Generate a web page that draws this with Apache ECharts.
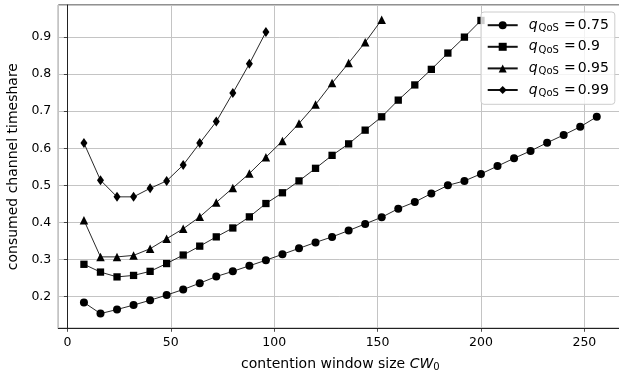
<!DOCTYPE html>
<html>
<head>
<meta charset="utf-8">
<script src="https://cdn.jsdelivr.net/npm/echarts@6/dist/echarts.min.js"></script>
<style>
html,body{margin:0;padding:0;background:#fff;}
#chart{width:619px;height:375px;}
</style>
</head>
<body>
<div id="chart"></div>
<script>
// contention window sizes (x values)
const cwValues = [8,16,24,32,40,48,56,64,72,80,88,96,104,112,120,128,136,144,152,160,168,176,184,192,200,208,216,224,232,240,248,256];
// consumed channel timeshare per QoS level
const q075 = [0.184,0.154,0.165,0.177,0.190,0.204,0.219,0.236,0.254,0.268,0.283,0.298,0.314,0.330,0.346,0.361,0.378,0.396,0.414,0.437,0.455,0.478,0.500,0.512,0.531,0.552,0.573,0.593,0.615,0.636,0.658,0.685];
const q090 = [0.287,0.266,0.253,0.257,0.268,0.289,0.312,0.336,0.361,0.385,0.415,0.451,0.480,0.512,0.546,0.581,0.612,0.649,0.685,0.730,0.771,0.813,0.857,0.900,0.945];
const q095 = [0.406,0.307,0.307,0.311,0.329,0.356,0.383,0.415,0.454,0.493,0.532,0.576,0.620,0.667,0.718,0.776,0.830,0.886,0.947];
const q099 = [0.614,0.514,0.469,0.469,0.492,0.512,0.555,0.614,0.672,0.749,0.828,0.914];
const qLabels = ['0.75','0.9','0.95','0.99'];
const seriesValues = [q075,q090,q095,q099];
const markers = ['circle','rect','triangle','diamond'];
const markerSizes = [8,7.3,8.5,[7,10]];

const FONT = 'DejaVu Sans';
const seriesNames = qLabels.map(v => 'qQoS = ' + v);

const series = seriesValues.map((vals, i) => ({
  name: seriesNames[i],
  type: 'line',
  data: vals.map((v, j) => [cwValues[j], v]),
  symbol: markers[i],
  symbolSize: markerSizes[i],
  showSymbol: true,
  animation: false,
  lineStyle: {color: '#111', width: 0.9},
  itemStyle: {color: '#000', borderWidth: 0},
  emphasis: {disabled: true},
  z: 2 + i
}));

const chart = echarts.init(document.getElementById('chart'), null, {renderer: 'canvas'});
chart.setOption({
  animation: false,
  backgroundColor: '#fff',
  grid: {
    left: 58.3, top: 5, bottom: 46.7, width: 564.1,
    outerBoundsMode: 'none',
    show: true, borderColor: '#222', borderWidth: 1, backgroundColor: 'transparent',
    containLabel: false
  },
  xAxis: {
    type: 'value',
    min: -4.4, max: 268.4,
    splitNumber: 5,
    axisLine: {show: true, lineStyle: {color: '#222', width: 1}},
    axisTick: {show: true, length: 3.5, lineStyle: {color: '#222', width: 0.8}},
    axisLabel: {show: true, showMinLabel: false, showMaxLabel: false, margin: 8, color: '#000', fontFamily: FONT, fontSize: 12.5},
    splitLine: {show: true, lineStyle: {color: '#c4c4c4', width: 1}},
    name: '{t|contention window size }{i|CW}{s|0}',
    nameLocation: 'middle',
    nameGap: 27,
    nameTextStyle: {
      color: '#000', fontFamily: FONT, fontSize: 14,
      rich: {
        t: {fontFamily: FONT, fontSize: 14, lineHeight: 18, color: '#000'},
        i: {fontFamily: FONT, fontSize: 14, fontStyle: 'italic', lineHeight: 18, color: '#000'},
        s: {fontFamily: FONT, fontSize: 10, lineHeight: 11, padding: [7,0,0,0], color: '#000'}
      }
    }
  },
  yAxis: {
    type: 'value',
    min: 0.1143, max: 0.9867,
    splitNumber: 9,
    axisLine: {show: true, lineStyle: {color: '#222', width: 1}},
    axisTick: {show: true, length: 3.5, lineStyle: {color: '#222', width: 0.8}},
    axisLabel: {show: true, showMinLabel: false, showMaxLabel: false, margin: 7, color: '#000', fontFamily: FONT, fontSize: 12.5,
      formatter: v => v.toFixed(1)},
    splitLine: {show: true, lineStyle: {color: '#c4c4c4', width: 1}},
    name: 'consumed channel timeshare',
    nameLocation: 'middle',
    nameRotate: 90,
    nameGap: 37,
    nameTextStyle: {color: '#000', fontFamily: FONT, fontSize: 14}
  },
  legend: {
    show: true,
    orient: 'vertical',
    left: 481, top: 12,
    padding: [4.7, 6, 5.8, 5.7],
    itemGap: 4.6,
    itemWidth: 30,
    itemHeight: 10,
    backgroundColor: 'rgba(255,255,255,0.8)',
    borderColor: '#cccccc',
    borderWidth: 1,
    borderRadius: 3,
    selectedMode: false,
    data: seriesNames,
    formatter: name => {
      const v = name.split('= ')[1];
      return '{q|q}{s|QoS}{e|=}{v|' + v + '}';
    },
    textStyle: {
      color: '#000', fontFamily: FONT, fontSize: 14,
      rich: {
        q: {fontFamily: FONT, fontSize: 14, fontStyle: 'italic', lineHeight: 18, color: '#000', padding: [0,0,0,6]},
        s: {fontFamily: FONT, fontSize: 10, lineHeight: 11, padding: [7,1,0,1], color: '#000'},
        e: {fontFamily: FONT, fontSize: 14, lineHeight: 18, padding: [0,2,0,4], color: '#000'},
        v: {fontFamily: FONT, fontSize: 14, lineHeight: 18, color: '#000'}
      }
    }
  },
  series: series
});
</script>
</body>
</html>
